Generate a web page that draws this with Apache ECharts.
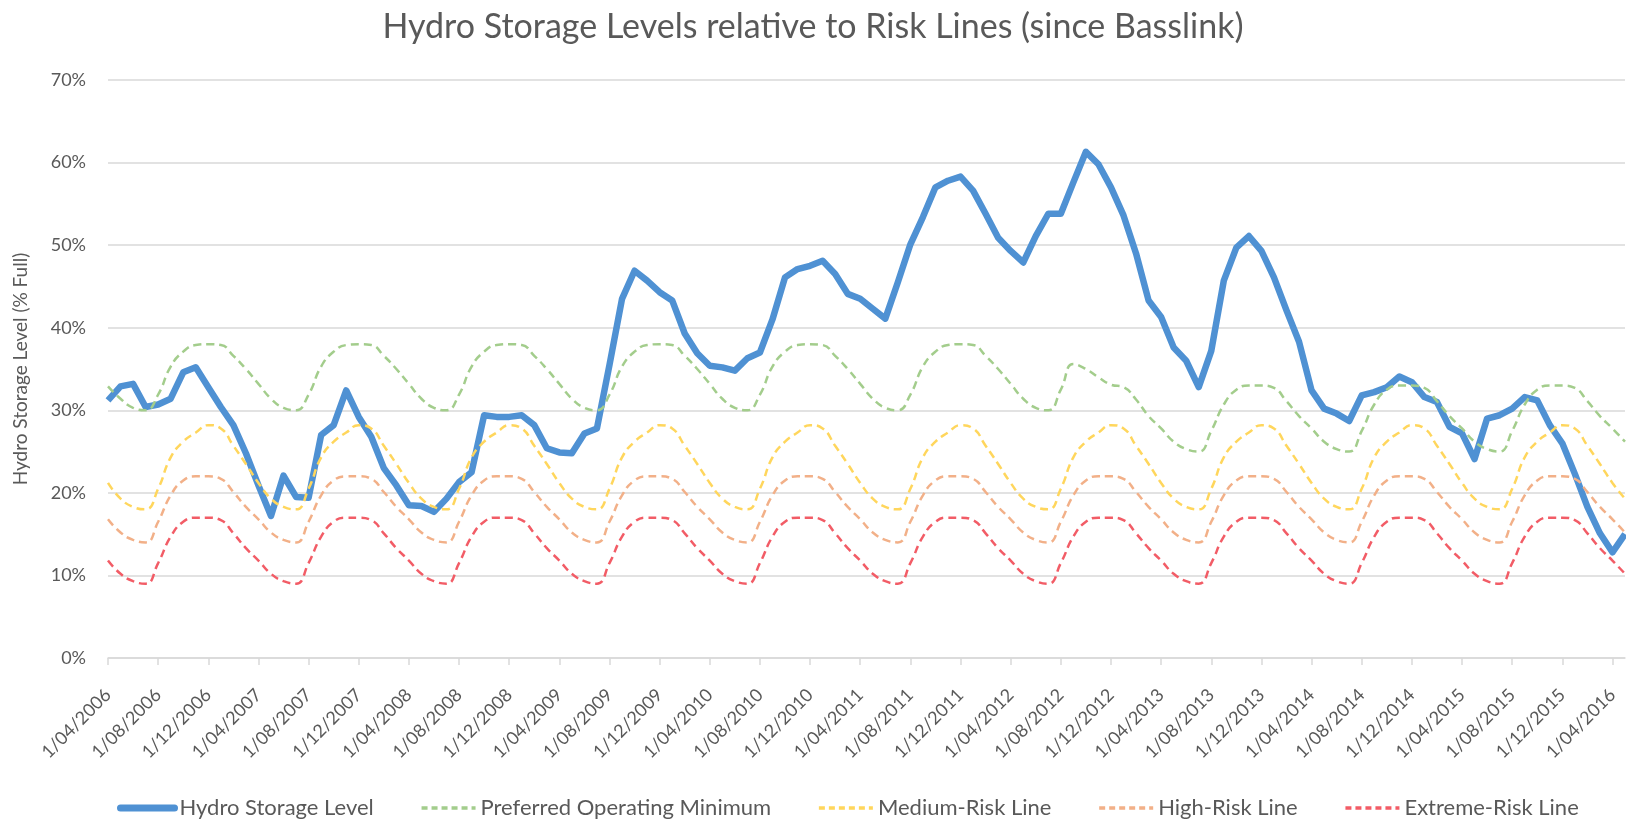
<!DOCTYPE html>
<html>
<head>
<meta charset="utf-8">
<title>Hydro Storage Levels relative to Risk Lines</title>
<script src="https://cdn.jsdelivr.net/npm/echarts@6/dist/echarts.min.js"></script>
<style>
  html, body { margin: 0; padding: 0; background: #fff; }
  #main { width: 1626px; height: 819px; }
</style>
</head>
<body>
<div id="main"></div>
<script>
// one point per month, 1/04/2006 .. 1/05/2016
var startYear = 2006;
var startMonth = 4;
var monthCount = 122;
var months = [];
for (var k = 0; k < monthCount; k++) {
  var m = (startMonth - 1 + k) % 12 + 1;
  var y = startYear + Math.floor((startMonth - 1 + k) / 12);
  months.push("1/" + (m < 10 ? "0" + m : m) + "/" + y);
}

// y axis ticks (% full)
var yMin = 0, yMax = 70, yStep = 10;

// each row = Apr .. Mar of one year
var storageLevel = [
  31.2, 32.9, 33.2, 30.4, 30.7, 31.4, 34.6, 35.2, 32.8, 30.4, 28.2, 24.8,
  20.9, 17.2, 22.1, 19.5, 19.4, 27.0, 28.2, 32.4, 29.2, 26.8, 23.0, 20.9,
  18.5, 18.4, 17.7, 19.3, 21.3, 22.5, 29.4, 29.2, 29.2, 29.4, 28.2, 25.4,
  24.9, 24.8, 27.2, 27.8, 35.5, 43.5, 46.9, 45.7, 44.3, 43.3, 39.3, 36.9,
  35.4, 35.2, 34.8, 36.3, 37.0, 41.0, 46.1, 47.1, 47.5, 48.1, 46.5, 44.1,
  43.5, 42.3, 41.1, 45.5, 50.1, 53.4, 57.0, 57.8, 58.3, 56.6, 53.8, 50.9,
  49.3, 47.9, 51.1, 53.8, 53.8, 57.6, 61.3, 59.8, 57.0, 53.6, 49.0, 43.3,
  41.3, 37.6, 36.0, 32.8, 37.2, 45.7, 49.7, 51.1, 49.3, 46.1, 42.1, 38.3,
  32.4, 30.2, 29.6, 28.7, 31.8, 32.2, 32.8, 34.1, 33.4, 31.6, 31.0, 28.0,
  27.2, 24.1, 29.0, 29.4, 30.2, 31.6, 31.2, 28.2, 26.0, 22.3, 18.3, 15.1,
  12.8, 15.0
];

var preferredMin = [
  32.9, 31.4, 30.3, 30.0, 31.9, 35.3, 37.1, 37.9, 38.0, 37.9, 36.6, 35.0,
  33.2, 31.4, 30.3, 30.0, 31.9, 35.3, 37.1, 37.9, 38.0, 37.9, 36.6, 35.0,
  33.2, 31.4, 30.3, 30.0, 31.9, 35.3, 37.1, 37.9, 38.0, 37.9, 36.6, 35.0,
  33.2, 31.4, 30.3, 30.0, 31.9, 35.3, 37.1, 37.9, 38.0, 37.9, 36.6, 35.0,
  33.2, 31.4, 30.3, 30.0, 31.9, 35.3, 37.1, 37.9, 38.0, 37.9, 36.6, 35.0,
  33.2, 31.4, 30.3, 30.0, 31.9, 35.3, 37.1, 37.9, 38.0, 37.9, 36.6, 35.0,
  33.2, 31.4, 30.3, 30.0, 32.5, 35.6, 35.0, 34.0, 33.1, 32.8, 31.3, 29.3,
  27.8, 26.2, 25.3, 25.0, 27.5, 30.7, 32.5, 33.0, 33.0, 32.7, 31.1, 29.3,
  27.8, 26.2, 25.3, 25.0, 27.5, 30.7, 32.5, 33.0, 33.0, 32.7, 31.1, 29.3,
  27.8, 26.2, 25.3, 25.0, 27.5, 30.7, 32.5, 33.0, 33.0, 32.7, 31.1, 29.3,
  27.8, 26.2
];

var mediumRisk = [
  21.2, 19.3, 18.3, 18.0, 20.5, 24.3, 26.2, 27.3, 28.2, 27.8, 25.7, 23.5,
  21.2, 19.3, 18.3, 18.0, 20.5, 24.3, 26.2, 27.3, 28.2, 27.8, 25.7, 23.5,
  21.2, 19.3, 18.3, 18.0, 20.5, 24.3, 26.2, 27.3, 28.2, 27.8, 25.7, 23.5,
  21.2, 19.3, 18.3, 18.0, 20.5, 24.3, 26.2, 27.3, 28.2, 27.8, 25.7, 23.5,
  21.2, 19.3, 18.3, 18.0, 20.5, 24.3, 26.2, 27.3, 28.2, 27.8, 25.7, 23.5,
  21.2, 19.3, 18.3, 18.0, 20.5, 24.3, 26.2, 27.3, 28.2, 27.8, 25.7, 23.5,
  21.2, 19.3, 18.3, 18.0, 20.5, 24.3, 26.2, 27.3, 28.2, 27.8, 25.7, 23.5,
  21.2, 19.3, 18.3, 18.0, 20.5, 24.3, 26.2, 27.3, 28.2, 27.8, 25.7, 23.5,
  21.2, 19.3, 18.3, 18.0, 20.5, 24.3, 26.2, 27.3, 28.2, 27.8, 25.7, 23.5,
  21.2, 19.3, 18.3, 18.0, 20.5, 24.3, 26.2, 27.3, 28.2, 27.8, 25.7, 23.5,
  21.2, 19.3
];

var highRisk = [
  16.8, 15.2, 14.3, 14.0, 16.5, 19.7, 21.5, 22.0, 22.0, 21.7, 20.1, 18.3,
  16.8, 15.2, 14.3, 14.0, 16.5, 19.7, 21.5, 22.0, 22.0, 21.7, 20.1, 18.3,
  16.8, 15.2, 14.3, 14.0, 16.5, 19.7, 21.5, 22.0, 22.0, 21.7, 20.1, 18.3,
  16.8, 15.2, 14.3, 14.0, 16.5, 19.7, 21.5, 22.0, 22.0, 21.7, 20.1, 18.3,
  16.8, 15.2, 14.3, 14.0, 16.5, 19.7, 21.5, 22.0, 22.0, 21.7, 20.1, 18.3,
  16.8, 15.2, 14.3, 14.0, 16.5, 19.7, 21.5, 22.0, 22.0, 21.7, 20.1, 18.3,
  16.8, 15.2, 14.3, 14.0, 16.5, 19.7, 21.5, 22.0, 22.0, 21.7, 20.1, 18.3,
  16.8, 15.2, 14.3, 14.0, 16.5, 19.7, 21.5, 22.0, 22.0, 21.7, 20.1, 18.3,
  16.8, 15.2, 14.3, 14.0, 16.5, 19.7, 21.5, 22.0, 22.0, 21.7, 20.1, 18.3,
  16.8, 15.2, 14.3, 14.0, 16.5, 19.7, 21.5, 22.0, 22.0, 21.7, 20.1, 18.3,
  16.8, 15.2
];

var extremeRisk = [
  11.8, 10.2, 9.3, 9.0, 11.5, 14.7, 16.5, 17.0, 17.0, 16.7, 15.1, 13.3,
  11.8, 10.2, 9.3, 9.0, 11.5, 14.7, 16.5, 17.0, 17.0, 16.7, 15.1, 13.3,
  11.8, 10.2, 9.3, 9.0, 11.5, 14.7, 16.5, 17.0, 17.0, 16.7, 15.1, 13.3,
  11.8, 10.2, 9.3, 9.0, 11.5, 14.7, 16.5, 17.0, 17.0, 16.7, 15.1, 13.3,
  11.8, 10.2, 9.3, 9.0, 11.5, 14.7, 16.5, 17.0, 17.0, 16.7, 15.1, 13.3,
  11.8, 10.2, 9.3, 9.0, 11.5, 14.7, 16.5, 17.0, 17.0, 16.7, 15.1, 13.3,
  11.8, 10.2, 9.3, 9.0, 11.5, 14.7, 16.5, 17.0, 17.0, 16.7, 15.1, 13.3,
  11.8, 10.2, 9.3, 9.0, 11.5, 14.7, 16.5, 17.0, 17.0, 16.7, 15.1, 13.3,
  11.8, 10.2, 9.3, 9.0, 11.5, 14.7, 16.5, 17.0, 17.0, 16.7, 15.1, 13.3,
  11.8, 10.2, 9.3, 9.0, 11.5, 14.7, 16.5, 17.0, 17.0, 16.7, 15.1, 13.3,
  11.8, 10.2
];

var font = "Lato, 'Open Sans', sans-serif";
var textGrey = "#595959";
var gridGrey = "#d9d9d9";

// dashed, smoothed risk line
function riskLine(name, data, color) {
  return {
    name: name,
    type: "line",
    data: data,
    smooth: true,
    symbol: "none",
    itemStyle: { color: color },
    lineStyle: { color: color, width: 2.5, type: [8, 5] },
  };
}

var myChart = echarts.init(document.getElementById("main"));
myChart.setOption({
  animation: false,
  title: {
    text: "Hydro Storage Levels relative to Risk Lines (since Basslink)",
    left: "center",
    top: 5,
    textStyle: { fontFamily: font, fontSize: 34, fontWeight: "normal", color: textGrey },
  },
  grid: { left: 108, right: 1, top: 80, bottom: 161 },
  legend: {
    top: 792,
    left: 112,
    itemWidth: 54,
    itemHeight: 14,
    itemGap: 46,
    itemStyle: { opacity: 0 },
    textStyle: { fontFamily: font, fontSize: 22, color: textGrey },
    data: [
      { name: "Hydro Storage Level", lineStyle: { width: 7, cap: "round" } },
      { name: "Preferred Operating Minimum", lineStyle: { width: 3.5, type: [6, 4] } },
      { name: "Medium-Risk Line", lineStyle: { width: 3.5, type: [6, 4] } },
      { name: "High-Risk Line", lineStyle: { width: 3.5, type: [6, 4] } },
      { name: "Extreme-Risk Line", lineStyle: { width: 3.5, type: [6, 4] } },
    ],
  },
  xAxis: {
    type: "category",
    data: months,
    boundaryGap: false,
    axisLine: { lineStyle: { color: gridGrey, width: 1.5 } },
    axisTick: { interval: 3, length: 7, lineStyle: { color: gridGrey, width: 1.5 } },
    axisLabel: {
      interval: 3,
      rotate: 45,
      margin: 34,
      fontFamily: font,
      fontSize: 18,
      color: textGrey,
    },
    splitLine: { show: false },
  },
  yAxis: {
    type: "value",
    min: yMin,
    max: yMax,
    interval: yStep,
    name: "Hydro Storage Level (% Full)",
    nameLocation: "middle",
    nameGap: 78,
    nameTextStyle: { fontFamily: font, fontSize: 19, color: textGrey },
    axisLine: { show: false },
    axisTick: { show: false },
    axisLabel: { formatter: "{value}%", margin: 22, fontFamily: font, fontSize: 18, color: textGrey },
    splitLine: { lineStyle: { color: gridGrey, width: 1.5 } },
  },
  series: [
    {
      name: "Hydro Storage Level",
      type: "line",
      data: storageLevel,
      symbol: "none",
      itemStyle: { color: "#4f91d3" },
      lineStyle: { color: "#4f91d3", width: 6.5, join: "round" },
    },
    riskLine("Preferred Operating Minimum", preferredMin, "#a3cd8c"),
    riskLine("Medium-Risk Line", mediumRisk, "#ffd65c"),
    riskLine("High-Risk Line", highRisk, "#f2b088"),
    riskLine("Extreme-Risk Line", extremeRisk, "#f25c66"),
  ],
});
</script>
</body>
</html>
